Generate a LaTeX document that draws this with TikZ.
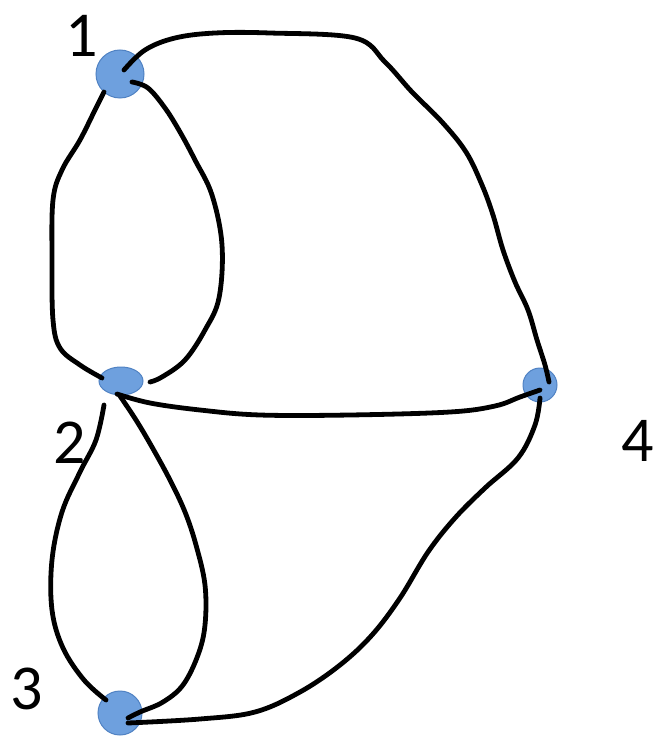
\documentclass[tikz,border=0pt]{standalone}
\usepackage{fontspec}
\setmainfont{Carlito}
\usetikzlibrary{shapes.geometric,calc}
\definecolor{vfill}{RGB}{110,160,222}
\definecolor{vdraw}{RGB}{80,130,195}
\tikzset{
  vert/.style={circle, fill=vfill, draw=vdraw, line width=1pt, inner sep=0pt},
  edge/.style={line width=4.8pt, line cap=round, line join=round},
  lab/.style={font=\fontsize{64}{64}\selectfont, inner sep=0pt}
}
\begin{document}
\begin{tikzpicture}[x=1pt,y=-1pt]
\useasboundingbox (0,0) rectangle (654,738);
\node[vert, minimum size=48pt] (n1) at (120,74) {};
\node[vert, ellipse, minimum width=44pt, minimum height=28pt] (n2) at (121,381) {};
\node[vert, minimum size=44pt] (n3) at (120,713) {};
\node[vert, minimum size=34pt] (n4) at (540,385) {};
\node[lab] (l1) at (82,36) {1};
\node[lab] (l2) at (70,443) {2};
\node[lab] (l3) at (27,689) {3};
\node[lab] (l4) at (638,441) {4};
% 1-2 left
\draw[edge] plot[smooth, tension=0.6] coordinates {($(n1)+(-16,18)$) (95,110) (80,140) (62,170) (53,200) (52,260) (53,320) (60,348) (80,365) ($(n2)+(-19,-3)$)};
% 1-2 right
\draw[edge] plot[smooth, tension=0.6] coordinates {($(n1)+(12,8)$) (148,88) (165,108) (180,132) (195,160) (212,195) (222,245) (219,298) (205,330) (185,360) (162,377) ($(n2)+(29,1)$)};
% 1-4 top
\draw[edge] plot[smooth, tension=0.6] coordinates {($(n1)+(4,-4)$) (145,50) (175,38) (215,33) (270,33) (355,38) (385,62) (412,92) (442,122) (466,152) (482,185) (493,215) (503,250) (515,282) (528,310) (537,340) (545,365) ($(n4)+(9,-3)$)};
% 2-4
\draw[edge] plot[smooth, tension=0.6] coordinates {($(n2)+(-4,13)$) (150,403) (200,410) (260,415) (350,415) (450,412) (495,406) (520,397) ($(n4)+(0,5)$)};
% 2-3 left
\draw[edge] plot[smooth, tension=0.6] coordinates {($(n2)+(-17,24)$) (96,440) (80,472) (62,512) (52,560) (52,610) (63,648) (84,680) ($(n3)+(-14,-13)$)};
% 2-3 right
\draw[edge] plot[smooth, tension=0.6] coordinates {($(n2)+(-1,15)$) (136,420) (152,447) (170,480) (185,512) (196,545) (205,585) (205,625) (198,655) (183,685) (163,702) (140,712) ($(n3)+(8,5)$)};
% 3-4
\draw[edge] plot[smooth, tension=0.6] coordinates {($(n3)+(8,10)$) (200,719) (255,712) (300,692) (340,665) (372,635) (400,598) (428,552) (455,518) (485,488) (518,458) (535,425) ($(n4)+(0,13)$)};
\end{tikzpicture}
\end{document}
